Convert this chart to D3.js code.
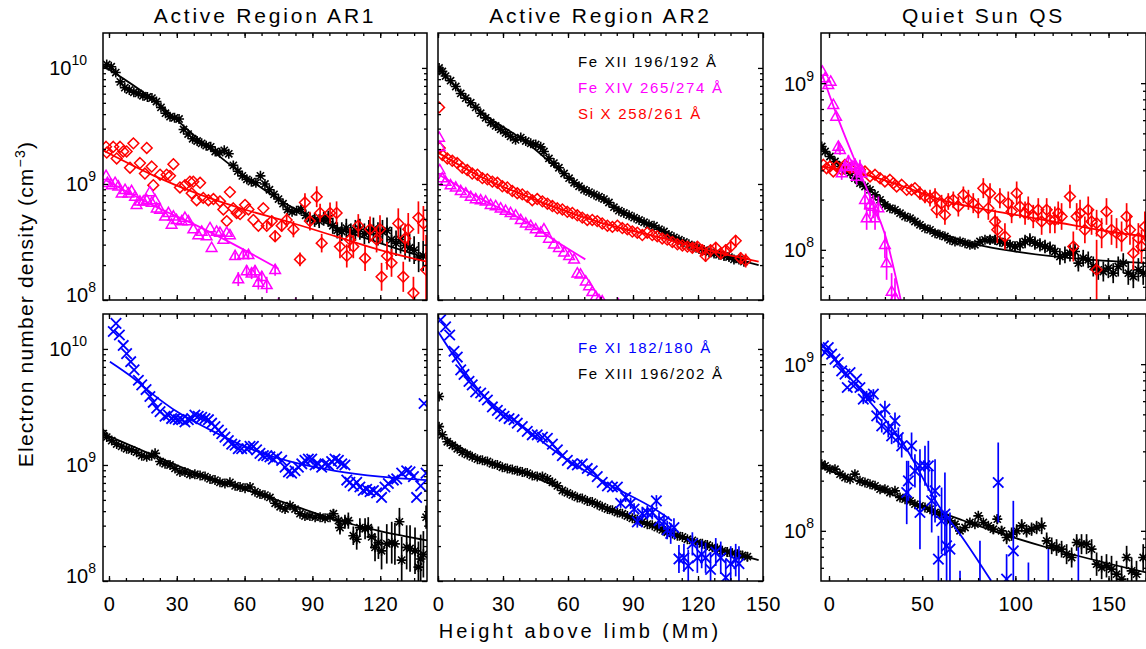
<!DOCTYPE html>
<html>
<head>
<meta charset="utf-8">
<script src="https://cdn.jsdelivr.net/npm/d3@7"></script>
<style>
  body { margin: 0; background: #fff; }
  text { font-family: "Liberation Sans", Arial, sans-serif; }
</style>
</head>
<body>
<div id="chart"></div>
<script>
// every point is [height (Mm), log10 density (cm^-3), error half-length in dex (optional)]

// ---- Active Region AR1, upper panel
var ar1Fe12 = [[-1,10.03],[1,10.01],[3,9.96],[5,9.88],[7,9.83],[9,9.81],[11,9.79],[13,9.78],[15,9.76],[17,9.75],[19,9.74],[21,9.71],[23,9.66],[25,9.61],[27,9.58],[29,9.57],[31,9.56],[33,9.47],[35,9.43],[37,9.39],[39,9.37],[41,9.35],[43,9.33],[45,9.32],[47,9.28],[49,9.27],[51,9.29],[53,9.26],[55,9.16],[57,9.11],[59,9.07],[61,9.04],[63,9.02],[65,9.01],[67,9.07],[69,9.00],[71,8.95],[73,8.91],[75,8.87],[77,8.83],[79,8.78],[81,8.76],[83,8.77],[85,8.78,0.04],[87,8.73,0.05],[89,8.70,0.05],[91,8.69,0.06],[93,8.68,0.06],[95,8.70,0.06],[97,8.70,0.07],[99,8.64,0.07],[101,8.60,0.07],[103,8.59,0.08],[105,8.62,0.08],[107,8.58,0.08],[109,8.60,0.09],[111,8.61,0.09],[113,8.57,0.09],[115,8.59,0.1],[117,8.61,0.1],[119,8.57,0.1],[121,8.59,0.1],[123,8.60,0.11],[125,8.52,0.11],[127,8.49,0.11],[129,8.52,0.12],[131,8.47,0.12],[133,8.45,0.12],[135,8.43,0.12],[137,8.37,0.13],[139,8.38,0.13]];
var ar1Fe12Fit = [[-2.65,10.02],[20,9.72],[40,9.38],[60,9.07],[80,8.81],[100,8.63],[120,8.49],[140.7,8.36]];

var ar1Si10 = [[-1.3,9.32],[-1,9.27],[1.9,9.32],[3.4,9.22],[4.9,9.32],[6.3,9.28],[7.8,9.28],[9.3,9.14],[10.8,9.35],[13.7,9.18],[15.9,9.09],[16.7,9.31],[18.9,9.15],[19.6,8.99],[22.6,9.08],[25.5,9.08],[27,9.07],[28.5,9.17],[31.4,8.97],[33.6,8.99],[35.8,9.02],[36.6,8.92],[37.3,9.02],[38.8,8.86],[40.3,9.01],[41.7,8.88],[44,8.86],[46.2,8.87],[49.1,8.85],[50.6,8.78],[52.1,8.68],[53.5,8.93],[55,8.79],[56.5,8.75],[58,8.74],[60.2,8.82],[61.7,8.78],[63.9,8.69],[66.1,8.64],[68.3,8.79],[69.8,8.64,0.03],[72,8.68,0.04],[73.5,8.55,0.05],[76.4,8.64,0.05],[78.6,8.69,0.06],[81.6,8.61,0.07],[84.5,8.35,0.06],[86.7,8.84,0.08],[88.9,8.68,0.08],[91.9,8.89,0.09],[93.4,8.75,0.08],[94.1,8.49,0.08],[97.8,8.75,0.09],[100.7,8.75,0.1],[102.2,8.46,0.1],[105.2,8.38,0.1],[106.6,8.52,0.1],[108.1,8.46,0.1],[110.3,8.64,0.1],[113.3,8.36,0.11],[115.5,8.61,0.11],[118.4,8.52,0.11],[119.9,8.61,0.12],[120.6,8.20,0.12],[123,8.38,0.12],[125,8.32,0.12],[128,8.66,0.13],[130.2,8.20,0.13],[131,8.53,0.13],[132.4,8.61,0.14],[134.7,8.06,0.14],[136.9,8.71,0.14],[139.1,8.66,0.15],[140.3,8.26,0.3]];
var ar1Si10Fit = [[-2.65,9.29],[20,9.07],[40,8.91],[60,8.78],[80,8.67],[100,8.55],[120,8.43],[140.7,8.33]];

var ar1Fe14 = [[-1.3,9.07],[-0.7,9.01],[1.2,8.99],[2.7,9.01],[4.1,8.98],[5.6,8.92],[7.1,8.95],[8.6,8.92],[10,8.94],[11.5,8.89],[12.2,8.82],[13.7,8.85],[15.2,8.85],[16.7,8.86],[18.1,8.93],[18.9,8.84],[20.4,8.86],[21.1,8.79],[22.6,8.78],[24.8,8.72],[26.3,8.75],[27.7,8.65],[28.5,8.72],[29.9,8.69],[32.2,8.68],[33.6,8.71],[35.1,8.68],[37.3,8.61],[39.5,8.56],[41,8.59],[43.2,8.55],[44.7,8.62],[45.4,8.45],[47.6,8.59],[49.1,8.58],[50.6,8.52],[52.1,8.58],[53.5,8.56],[55.8,8.38,0.03],[57.2,8.18,0.06],[59.4,8.39,0.04],[60.9,8.25,0.05],[61.7,8.39,0.04],[63.1,8.23,0.05],[64.6,8.25,0.05],[66.1,8.15,0.06],[67.6,8.20,0.05],[69.8,8.13,0.07],[73.5,8.26,0.05],[75,7.95,0.07],[82.6,7.9,0.12]];
var ar1Fe14Fit = [[-1.3,9.03],[20,8.81],[40,8.63],[60,8.43],[75,8.27]];

// ---- Active Region AR1, lower panel
var ar1Fe11 = [[1.9,10.15],[3.1,10.22],[4.6,10.12],[6.3,10.03],[7.8,9.96],[9.6,9.89],[11.1,9.82],[13,9.73],[14.5,9.69],[16.4,9.65],[18.1,9.59],[19.6,9.54],[21.1,9.49],[22.6,9.46],[24.8,9.42],[26.3,9.43],[27.7,9.40],[29.2,9.40],[30.7,9.39],[32.2,9.39],[33.6,9.37],[35.1,9.39],[36.6,9.40],[38,9.43],[39.5,9.42],[41,9.41],[42.5,9.40],[44,9.39],[45.4,9.36],[46.9,9.33],[48.4,9.30],[49.9,9.27],[51.3,9.24],[52.8,9.21],[54.3,9.18],[55.8,9.17],[57.2,9.14],[58.7,9.14],[60.9,9.14],[62.4,9.16],[63.9,9.16],[65.3,9.13],[66.8,9.10],[68.3,9.08],[69.8,9.08],[71.2,9.07],[72.7,9.05],[74.2,9.07],[76.4,9.04],[77.9,8.98],[79.4,8.94],[80.8,8.93],[82.3,8.95],[83.8,8.98],[85.3,9.01],[86.7,9.04],[88.2,9.05],[89.7,9.05],[91.2,9.00],[92.6,9.01],[94.1,8.98],[95.6,9.01],[97.1,9.00],[98.5,9.03],[100,9.05],[101.5,9.04],[103,9.01],[104.4,9.00],[105.2,8.87],[106.6,8.85],[108.1,8.82],[109.6,8.85],[111,8.81],[112.5,8.78],[114,8.79],[115.5,8.77],[117,8.78],[118.4,8.76],[120.6,8.72],[122.1,8.81],[123.6,8.84],[125.8,8.87],[127.3,8.88],[129.5,8.93],[131.7,8.95],[133.2,8.94],[134.7,8.90],[136.1,8.72],[137.9,8.82],[139.4,9.53],[140.3,8.93]];
var ar1Fe11Fit = [[0.4,9.89],[10,9.76],[20,9.60],[30,9.46],[45,9.30],[60,9.16],[80,9.03],[100,8.95],[120,8.90],[140.7,8.87]];

var ar1Fe13 = [[-2.5,9.27],[-1,9.24],[1.2,9.21],[3.4,9.18],[5.6,9.16],[7.8,9.14],[10,9.13],[12.2,9.11],[14.5,9.08],[16.7,9.07],[18.9,9.08],[20.4,9.10],[22.6,9.03],[24.8,9.01],[27,9.00],[29.2,8.97],[31.4,8.94],[33.6,8.94],[35.8,8.92],[38,8.92],[40.3,8.91],[42.5,8.90],[44.7,8.88],[46.9,8.87],[49.1,8.85],[51.3,8.84],[53.5,8.85],[55.8,8.82],[58,8.81],[60.2,8.80],[62.4,8.81],[64.6,8.77],[66.8,8.75],[69,8.74],[71.2,8.72],[73.5,8.67],[75.7,8.64],[77.9,8.62],[80.1,8.65],[82.3,8.62],[84.5,8.58],[86.7,8.56],[88.9,8.56],[91.2,8.55],[93.4,8.55],[95.6,8.54],[97.8,8.55],[99.3,8.58,0.04],[101.5,8.52,0.05],[102.2,8.46,0.06],[104.4,8.51,0.06],[105.9,8.52,0.07],[108.1,8.39,0.08],[109.6,8.36,0.09],[111,8.46,0.08],[113.3,8.45,0.09],[114.7,8.46,0.09],[116.2,8.38,0.1],[117.7,8.29,0.12],[119.2,8.33,0.14],[120.6,8.26,0.16],[122.9,8.32,0.17],[125.1,8.33,0.18],[126.5,8.32,0.18],[128.5,8.51,0.12],[129.5,8.18,0.2],[131.7,8.29,0.19],[133.2,8.28,0.2],[135.4,8.26,0.2],[136.9,8.12,0.22],[137.9,8.19,0.21],[139.1,8.23,0.2],[140.3,8.55,0.1]];
var ar1Fe13Fit = [[-2.65,9.27],[20,9.08],[40,8.92],[60,8.79],[80,8.66],[100,8.53],[120,8.43],[140.7,8.35]];

// ---- Active Region AR2, upper panel
var ar2Fe12 = [[0.5,10.0],[2,9.97],[3.5,9.93],[5.8,9.89],[8.2,9.84],[10.5,9.78],[12.8,9.74],[15.1,9.70],[17.4,9.66],[19.7,9.61],[22,9.57],[24.3,9.53],[26.6,9.50],[28.9,9.47],[31.2,9.44],[33.5,9.41],[35.8,9.38],[38.2,9.40],[40.5,9.37],[42.8,9.35],[45.1,9.34],[47.4,9.32],[48.9,9.28],[51.2,9.22],[53.5,9.18],[55.8,9.14],[58.2,9.09],[60.5,9.05],[62.8,9.01],[65.1,8.98],[67.4,8.95],[69.7,8.93],[72,8.91],[74.3,8.89],[76.6,8.87],[78.9,8.84],[81.2,8.80],[83.5,8.77],[85.8,8.75],[88.2,8.73],[90.5,8.71],[92.8,8.69],[95.1,8.67],[97.4,8.65],[99.7,8.64],[102,8.61],[104.3,8.59],[106.6,8.56],[108.9,8.54],[111.2,8.52],[113.5,8.50],[115.8,8.48],[118.2,8.46],[120.5,8.44,0.02],[122.8,8.43,0.02],[125.1,8.41,0.02],[127.4,8.40,0.03],[129.7,8.39,0.03],[132,8.38,0.03],[134.3,8.37,0.03],[136.6,8.35,0.03],[138.9,8.35,0.03],[141.2,8.33,0.03]];
var ar2Fe12Fit = [[0,10.0],[20,9.62],[40,9.37],[60,9.06],[80,8.82],[100,8.63],[120,8.46],[148,8.30]];

var ar2Si10 = [[0.5,9.66],[0.8,9.31],[2,9.25],[4.3,9.22],[6.6,9.20],[8.9,9.18],[11.2,9.14],[13.5,9.12],[15.8,9.09],[18.2,9.08],[20.5,9.05],[22.8,9.04],[25.1,9.02],[27.4,9.01],[29.7,8.98],[32,8.97],[34.3,8.94],[36.6,8.92],[38.9,8.91],[41.2,8.89],[43.5,8.86],[45.8,8.87],[48.2,8.85],[50.5,8.83],[52.8,8.81],[55.1,8.79],[57.4,8.78],[59.7,8.76],[62,8.75],[64.3,8.73],[66.6,8.71],[68.9,8.69],[71.2,8.69],[73.5,8.68],[75.8,8.66],[78.2,8.64],[80.5,8.63],[82.8,8.64],[85.1,8.62],[87.4,8.61],[89.7,8.59],[92,8.58],[94.3,8.56],[96.6,8.58],[98.9,8.56],[101.2,8.55],[103.5,8.53],[105.8,8.52],[108.2,8.50],[110.5,8.48,0.03],[112.8,8.47,0.03],[115.1,8.46,0.03],[117.4,8.45,0.04],[119.7,8.46,0.04],[122,8.43,0.04],[123.5,8.38,0.05],[125.8,8.43,0.04],[128.2,8.45,0.04],[130.5,8.40,0.05],[132.8,8.43,0.05],[135.1,8.46,0.05],[137.4,8.51,0.05],[139.7,8.36,0.05],[142,8.34,0.06]];
var ar2Si10Fit = [[0,9.27],[20,9.06],[40,8.90],[60,8.76],[80,8.64],[100,8.55],[120,8.45],[148,8.33]];

var ar2Fe14 = [[0.5,9.40],[0.8,9.32],[0.8,9.12],[2,9.05],[3.5,9.02],[5.8,8.99],[8.2,8.97],[10.5,8.94],[12.8,8.92],[15.1,8.89],[17.4,8.87],[19.7,8.86],[22,8.85],[24.3,8.82],[26.6,8.81],[28.9,8.79],[31.2,8.77],[33.5,8.75],[35.8,8.73],[38.2,8.69],[40.5,8.66],[42.8,8.64],[45.1,8.61],[47.4,8.58],[48.9,8.61],[51.2,8.53],[53.5,8.48],[55.8,8.45],[58.2,8.41],[60.5,8.38],[62.8,8.35],[64.3,8.23],[65.8,8.22],[68.2,8.16],[69.7,8.12],[71.2,8.07],[72.8,8.03],[74.3,8.00],[75.8,7.99],[83.2,7.9,0.12]];
var ar2Fe14Fit = [[0.5,9.08],[20,8.87],[40,8.68],[55,8.50],[68,8.35]];

// ---- Active Region AR2, lower panel
var ar2Fe11 = [[1.2,10.25],[3.5,10.19],[5.4,10.12],[7.4,9.98],[8.9,9.93],[10.5,9.82],[12,9.78],[14.3,9.72],[15.8,9.69],[17.4,9.63],[19.7,9.62],[21.2,9.59],[22.8,9.56],[25.1,9.50],[27.4,9.47],[28.9,9.44],[30.5,9.42],[32.8,9.40],[35.1,9.39],[36.6,9.36],[38.9,9.33],[41.2,9.29],[43.5,9.26],[45.8,9.26],[48.2,9.24],[50.5,9.23],[52.8,9.18],[55.1,9.13],[57.4,9.08],[59.7,9.04],[62,9.01],[64.3,9.00],[66.6,9.01],[68.9,8.97],[71.2,8.95],[73.5,8.90],[75.8,8.85],[78.2,8.82],[80.5,8.81],[82.8,8.81],[84.3,8.67,0.04],[86.6,8.72,0.04],[88.9,8.67,0.05],[90.5,8.62,0.05],[92,8.51,0.05],[94.3,8.58,0.06],[96.6,8.59,0.06],[98.9,8.59,0.06],[100.8,8.69,0.05],[102,8.52,0.07],[104.3,8.51,0.07],[105.8,8.44,0.08],[107.4,8.41,0.09],[108.9,8.46,0.08],[111.2,8.19,0.12],[113.5,8.20,0.12],[115.5,8.13,0.14],[117.4,8.32,0.1],[119.7,8.20,0.13],[121.7,8.23,0.12],[123.5,8.20,0.13],[125.8,8.10,0.15],[128.2,8.25,0.12],[130.5,8.20,0.14],[132.8,8.03,0.16],[135.1,8.15,0.15],[137.4,8.18,0.14],[138.9,8.15,0.15]];
var ar2Fe11Fit = [[0,10.15],[20,9.62],[40,9.32],[60,9.04],[80,8.82],[100,8.62],[108,8.52]];

var ar2Fe13 = [[0.5,9.59],[0.5,9.33],[2,9.26],[4.3,9.20],[6.6,9.17],[8.9,9.14],[11.2,9.11],[13.5,9.09],[15.8,9.07],[18.2,9.05],[20.5,9.04],[22.8,9.03],[25.1,9.01],[27.4,9.00],[29.7,8.98],[32,8.97],[34.3,8.96],[36.6,8.95],[38.9,8.94],[41.2,8.93],[43.5,8.91],[45.8,8.90],[48.2,8.90],[50.5,8.88],[52.8,8.85],[55.1,8.82],[57.4,8.78],[59.7,8.76],[62,8.74],[64.3,8.72],[66.6,8.71],[68.9,8.69],[71.2,8.68],[73.5,8.66],[75.8,8.64],[78.2,8.62],[80.5,8.61],[82.8,8.59],[85.1,8.58],[87.4,8.56],[89.7,8.54],[92,8.53],[94.3,8.51],[96.6,8.49],[98.9,8.48],[101.2,8.46],[103.5,8.44],[105.8,8.42],[108.2,8.41],[110.5,8.39],[112.8,8.38],[115.1,8.36],[117.4,8.35,0.02],[119.7,8.33,0.02],[122,8.32,0.03],[124.3,8.31,0.03],[126.6,8.29,0.03],[128.9,8.28,0.03],[131.2,8.26,0.03],[133.5,8.25,0.04],[135.8,8.24,0.04],[138.2,8.23,0.04],[140.5,8.22,0.04],[142.8,8.21,0.04]];
var ar2Fe13Fit = [[0,9.28],[20,9.05],[40,8.93],[60,8.77],[80,8.62],[100,8.47],[120,8.33],[148,8.18]];

// ---- Quiet Sun QS, upper panel
var qsFe12 = [[-3.9,8.62],[-2.1,8.59],[0.5,8.56],[3.2,8.53],[5.9,8.50],[8.6,8.48],[11.3,8.46],[13.9,8.43],[16.6,8.40],[19.3,8.38],[22,8.36],[24.7,8.33],[27.4,8.30],[30,8.27],[32.7,8.25],[35.4,8.24],[38.1,8.22],[40.8,8.20],[43.5,8.19],[46.1,8.17],[48.8,8.15],[51.5,8.13],[54.2,8.12],[56.9,8.10],[59.5,8.09],[62.2,8.08],[64.9,8.06],[67.6,8.05],[70.3,8.05],[73,8.04],[75.6,8.03],[78.3,8.03],[81,8.05],[83.7,8.06],[86.4,8.06,0.03],[89.1,8.06,0.03],[91.7,8.05,0.03],[94.4,8.04,0.03],[97.1,8.03,0.03],[99.8,8.02,0.03],[102.5,8.03,0.04],[105.2,8.05,0.04],[107.8,8.06,0.04],[110.5,8.04,0.04],[113.2,8.03,0.04],[115.9,8.02,0.04],[118.6,8.01,0.04],[121.2,7.99,0.04],[123.9,7.96,0.05],[126.6,7.97,0.05],[129.3,7.98,0.05],[132,7.99,0.05],[133.8,7.92,0.05],[136.4,7.95,0.05],[139.1,7.94,0.05],[141.8,7.90,0.06],[144.5,7.88,0.06],[147.2,7.87,0.06],[149.9,7.89,0.06],[152.5,7.86,0.06],[155.2,7.90,0.06],[157.9,7.92,0.06],[160.6,7.86,0.07],[163.3,7.84,0.07],[166,7.88,0.07],[168.6,7.86,0.07]];
var qsFe12Fit = [[-4.3,8.62],[10,8.47],[25,8.33],[40,8.21],[60,8.10],[80,8.03],[100,7.99],[130,7.95],[170.1,7.92]];

var qsSi10 = [[-3,8.51],[-1.3,8.49],[0.5,8.50],[2.3,8.47],[4.1,8.50],[6.8,8.48],[8.6,8.51],[11.3,8.49],[13.9,8.49],[16.6,8.48],[19.3,8.47],[22,8.44],[24.7,8.45],[27.4,8.43],[30,8.41],[32.7,8.42],[34.5,8.40],[36.3,8.38],[39,8.39],[41.7,8.36],[44.3,8.36],[46.1,8.37],[48.8,8.34,0.04],[51.5,8.32,0.04],[54.2,8.31,0.05],[56.9,8.32,0.05],[57.8,8.24,0.05],[60.4,8.28,0.05],[62.2,8.21,0.06],[64,8.29,0.05],[66.7,8.30,0.05],[69.4,8.26,0.06],[72.1,8.33,0.05],[74.8,8.30,0.06],[77.4,8.28,0.06],[80.1,8.25,0.06],[82.8,8.37,0.06],[85.5,8.25,0.07],[86.4,8.34,0.06],[89.1,8.17,0.07],[90.3,8.12,0.08],[91.7,8.31,0.06],[94.4,8.08,0.08],[96.2,8.28,0.07],[98,8.23,0.07],[100.7,8.34,0.07],[102.5,8.26,0.07],[105.2,8.22,0.07],[106.9,8.25,0.07],[109.6,8.20,0.07],[112.3,8.24,0.07],[114.1,8.17,0.08],[116.8,8.24,0.07],[118.6,8.18,0.08],[121.2,8.18,0.08],[123,8.22,0.07],[124.8,8.20,0.08],[129.3,8.32,0.07],[131.1,8.02,0.09],[132.9,8.20,0.08],[134.7,8.22,0.08],[137.3,8.12,0.08],[139.1,8.24,0.08],[140.9,8.17,0.08],[143.6,8.16,0.08],[143.6,7.88,0.18],[146.3,8.10,0.09],[148.9,8.23,0.08],[151.6,8.12,0.09],[154.3,8.10,0.09],[157,8.08,0.09],[159.7,8.20,0.08],[161.5,8.12,0.09],[163.3,7.98,0.1],[166,8.07,0.09],[167.7,8.02,0.1],[169.5,8.14,0.09]];
var qsSi10Fit = [[-4.3,8.50],[20,8.45],[40,8.38],[60,8.30],[80,8.25],[100,8.21],[120,8.17],[150,8.11],[170.1,8.08]];

var qsFe14 = [[-3.6,9.07],[-2.1,9.03],[-0.4,8.99],[0.9,9.01],[2.3,8.87],[3.8,8.80],[5,8.62,0.03],[5.9,8.60,0.03],[6.8,8.46,0.04],[8.6,8.50,0.04],[10.4,8.53,0.04],[12.2,8.50,0.04],[13.9,8.51,0.04],[14.8,8.44,0.05],[16.6,8.49,0.05],[17.5,8.46,0.05],[19.3,8.30,0.06],[20.2,8.19,0.07],[22,8.27,0.07],[23.8,8.26,0.07],[24.7,8.19,0.07],[26.5,8.25,0.07],[30,8.03,0.08],[30.9,7.92,0.1],[33.6,7.75,0.11],[35.4,7.71,0.12]];
var qsFe14Fit = [[-3.6,9.05],[4.1,8.81],[13,8.56],[22,8.32],[30.9,8.06],[38.5,7.70]];

// ---- Quiet Sun QS, lower panel
var qsFe11 = [[-3,9.11],[-2.1,9.07],[-0.4,9.10],[1.4,9.06],[3.2,9.03],[5,9.01],[6.8,8.96],[8.6,8.94],[9.8,8.86],[11.3,8.95],[13.1,8.87],[14.8,8.91],[16.6,8.86],[18.4,8.79,0.03],[20.2,8.81,0.03],[22,8.80,0.03],[23.8,8.82,0.03],[25.6,8.69,0.04],[28.3,8.63,0.04],[30,8.73,0.05],[31.8,8.61,0.05],[33.6,8.57,0.05],[35.4,8.66,0.05],[37.2,8.56,0.06],[39,8.51,0.07],[41.7,8.23,0.19],[42.6,8.30,0.12],[44.3,8.51,0.08],[46.1,8.36,0.1],[48.8,8.39,0.1],[48.8,8.11,0.22],[51.5,8.39,0.12],[53.3,8.39,0.15],[55.1,8.18,0.19],[56.9,8.24,0.19],[58.7,7.83,0.14],[60.4,8.06,0.2],[62.2,8.10,0.25],[63.1,7.91,0.21],[64.9,7.89,0.22],[70.3,7.5,0.26],[81,7.6,0.34],[90.8,8.29,0.24],[95.3,7.71,0.15],[98.9,7.88,0.3],[107,7.55,0.26],[117.7,7.6,0.29],[133.8,7.6,0.3]];
var qsFe11Fit = [[-4.3,9.12],[20,8.80],[40,8.52],[59.5,8.14],[70.3,7.98],[87,7.70]];

var qsFe13 = [[-3.9,8.40],[-2.1,8.39],[0.5,8.37],[3.2,8.37],[5.9,8.34],[8.6,8.32],[11.3,8.31],[13.9,8.34],[16.6,8.30],[19.3,8.29],[22,8.28],[24.7,8.27],[27.4,8.25],[30,8.25],[32.7,8.23],[35.4,8.24],[38.1,8.20],[40.8,8.19],[43.5,8.18],[46.1,8.16],[48.8,8.15],[51.5,8.14],[54.2,8.13],[56.9,8.11],[59.5,8.10],[62.2,8.08],[64.9,8.06],[67.6,8.04],[70.3,8.00],[73,8.02],[75.6,8.05],[78.3,8.04],[80.1,8.09],[82.8,8.05],[85.5,8.03],[88.2,8.01,0.03],[90.3,8.07,0.03],[92.6,8.00,0.03],[95.3,7.96,0.04],[98,7.98,0.04],[100.7,8.00,0.04],[103.4,8.03,0.04],[106,8.00,0.04],[108.7,8.01,0.04],[111.4,8.02,0.04],[114.1,8.03,0.05],[116.8,7.94,0.05],[119.5,7.91,0.05],[122.1,7.90,0.05],[124.8,7.89,0.05],[127.5,7.86,0.06],[130.2,7.84,0.06],[132.9,7.93,0.05],[135.5,7.92,0.06],[138.2,7.92,0.06],[140.9,7.89,0.06],[143.6,7.80,0.07],[146.3,7.78,0.07],[148.9,7.79,0.07],[151.6,7.77,0.08],[154.3,7.74,0.08],[157,7.71,0.08],[159.7,7.84,0.07],[162.4,7.76,0.08],[165,7.74,0.08],[168.6,7.84,0.08]];
var qsFe13Fit = [[-4.3,8.38],[20,8.28],[40,8.19],[60,8.11],[70,8.07],[88,8.00],[117,7.90],[170.1,7.75]];

// ---- axes and labels
var titles = ["Active Region AR1", "Active Region AR2", "Quiet Sun QS"];
var xDomains = [[-2.65, 140.7], [0, 150], [-4.3, 170.1]];
var xTicks = [[0, 30, 60, 90, 120], [0, 30, 60, 90, 120, 150], [0, 50, 100, 150]];
var xMinorStep = [7.5, 7.5, 10];
var yDomains = [[1e8, 2e10], [1e8, 2e10], [5e7, 2e9]];
var legendTop = [["Fe XII 196/192 \u00C5", "#000000"], ["Fe XIV 265/274 \u00C5", "#ff00ff"], ["Si X 258/261 \u00C5", "#ff0000"]];
var legendBottom = [["Fe XI 182/180 \u00C5", "#0000ff"], ["Fe XIII 196/202 \u00C5", "#000000"]];

var BLACK = "#000000", RED = "#ff0000", MAGENTA = "#ff00ff", BLUE = "#0000ff";

var panels = [
  {col: 0, row: 0, series: [
    {data: ar1Fe12, fit: ar1Fe12Fit, color: BLACK, mark: "ast"},
    {data: ar1Si10, fit: ar1Si10Fit, color: RED, mark: "dia"},
    {data: ar1Fe14, fit: ar1Fe14Fit, color: MAGENTA, mark: "tri"}]},
  {col: 1, row: 0, series: [
    {data: ar2Fe12, fit: ar2Fe12Fit, color: BLACK, mark: "ast"},
    {data: ar2Si10, fit: ar2Si10Fit, color: RED, mark: "dia"},
    {data: ar2Fe14, fit: ar2Fe14Fit, color: MAGENTA, mark: "tri"}], legend: legendTop},
  {col: 2, row: 0, series: [
    {data: qsFe12, fit: qsFe12Fit, color: BLACK, mark: "ast"},
    {data: qsSi10, fit: qsSi10Fit, color: RED, mark: "dia"},
    {data: qsFe14, fit: qsFe14Fit, color: MAGENTA, mark: "tri"}]},
  {col: 0, row: 1, series: [
    {data: ar1Fe13, fit: ar1Fe13Fit, color: BLACK, mark: "ast"},
    {data: ar1Fe11, fit: ar1Fe11Fit, color: BLUE, mark: "cross"}]},
  {col: 1, row: 1, series: [
    {data: ar2Fe13, fit: ar2Fe13Fit, color: BLACK, mark: "ast"},
    {data: ar2Fe11, fit: ar2Fe11Fit, color: BLUE, mark: "cross"}], legend: legendBottom},
  {col: 2, row: 1, series: [
    {data: qsFe13, fit: qsFe13Fit, color: BLACK, mark: "ast"},
    {data: qsFe11, fit: qsFe11Fit, color: BLUE, mark: "cross"}]}
];

// layout
var width = 1146, height = 649;
var cols = [{x: 103, w: 324}, {x: 438, w: 325}, {x: 821, w: 325}];
var rows = [{y: 33, h: 267}, {y: 314, h: 267}];
var FONT = "'Liberation Sans', Arial, sans-serif";

var svg = d3.select("#chart").append("svg")
  .attr("width", width).attr("height", height)
  .style("background", "#fff");

// IDL-like plot symbols
var symbols = {
  ast: function(r) { var a = r * 0.72; return "M" + (-r) + ",0H" + r + "M0," + (-r) + "V" + r + "M" + (-a) + "," + (-a) + "L" + a + "," + a + "M" + (-a) + "," + a + "L" + a + "," + (-a); },
  dia: function(r) { return "M0," + (-r) + "L" + r + ",0L0," + r + "L" + (-r) + ",0Z"; },
  tri: function(r) { return "M0," + (-r) + "L" + (r * 0.95) + "," + (r * 0.65) + "L" + (-r * 0.95) + "," + (r * 0.65) + "Z"; },
  cross: function(r) { return "M" + (-r) + "," + (-r) + "L" + r + "," + r + "M" + (-r) + "," + r + "L" + r + "," + (-r); }
};
var markSize = {ast: 5, dia: 5.4, tri: 5.6, cross: 5.2};
var markWidth = {ast: 1.6, dia: 1.5, tri: 1.5, cross: 1.8};

var pow10 = function(v) { return Math.pow(10, v); };

function styleAxis(sel) {
  sel.select(".domain").remove();
  sel.attr("font-family", FONT).attr("font-size", 20);
  sel.selectAll("line").attr("stroke", "#000").attr("stroke-width", 1.3);
  sel.selectAll("text").attr("fill", "#000");
}

panels.forEach(function(p, i) {
  var c = cols[p.col], r = rows[p.row];
  var x = d3.scaleLinear().domain(xDomains[p.col]).range([0, c.w]);
  var y = d3.scaleLog().domain(yDomains[p.col]).range([r.h, 0]);

  var g = svg.append("g").attr("transform", "translate(" + c.x + "," + r.y + ")");
  g.append("clipPath").attr("id", "clip" + i)
    .append("rect").attr("width", c.w).attr("height", r.h);
  var plot = g.append("g").attr("clip-path", "url(#clip" + i + ")");

  p.series.forEach(function(s) {
    // error bars
    plot.append("g").selectAll("line")
      .data(s.data.filter(function(d) { return d[2]; }))
      .join("line")
        .attr("x1", function(d) { return x(d[0]); })
        .attr("x2", function(d) { return x(d[0]); })
        .attr("y1", function(d) { return y(pow10(d[1] - d[2])); })
        .attr("y2", function(d) { return y(pow10(d[1] + d[2])); })
        .attr("stroke", s.color).attr("stroke-width", 1.7);
    // symbols
    plot.append("g").selectAll("path")
      .data(s.data)
      .join("path")
        .attr("transform", function(d) { return "translate(" + x(d[0]) + "," + y(pow10(d[1])) + ")"; })
        .attr("d", symbols[s.mark](markSize[s.mark]))
        .attr("fill", "none")
        .attr("stroke", s.color)
        .attr("stroke-width", markWidth[s.mark]);
    // fitted profile
    plot.append("path").datum(s.fit)
      .attr("d", d3.line()
        .x(function(d) { return x(d[0]); })
        .y(function(d) { return y(pow10(d[1])); })
        .curve(d3.curveMonotoneX))
      .attr("fill", "none").attr("stroke", s.color).attr("stroke-width", 1.8);
  });

  // ticks
  var xd = xDomains[p.col], st = xMinorStep[p.col];
  var xMinor = d3.range(Math.ceil(xd[0] / st) * st, xd[1], st);
  var yd = yDomains[p.col];
  var decades = [], yMinor = [];
  for (var e = Math.floor(Math.log10(yd[0])); e <= Math.ceil(Math.log10(yd[1])); e++) {
    var v = Math.pow(10, e);
    if (v >= yd[0] * 0.999 && v <= yd[1]) decades.push(v);
    for (var m = 2; m <= 9; m++) {
      var mv = m * v;
      if (mv > yd[0] * 1.001 && mv < yd[1] * 0.999) yMinor.push(mv);
    }
  }

  g.append("g").attr("transform", "translate(0," + r.h + ")")
    .call(d3.axisBottom(x).tickValues(xMinor).tickSize(-3).tickFormat("")).call(styleAxis);
  g.append("g")
    .call(d3.axisTop(x).tickValues(xMinor).tickSize(-3).tickFormat("")).call(styleAxis);
  g.append("g")
    .call(d3.axisTop(x).tickValues(xTicks[p.col]).tickSize(-5).tickFormat("")).call(styleAxis);
  var xb = g.append("g").attr("transform", "translate(0," + r.h + ")")
    .call(d3.axisBottom(x).tickValues(xTicks[p.col]).tickSize(-5).tickPadding(16)
      .tickFormat(p.row === 1 ? d3.format("d") : function() { return ""; }))
    .call(styleAxis);
  xb.selectAll("text").style("letter-spacing", "0.5px");

  g.append("g")
    .call(d3.axisLeft(y).tickValues(yMinor).tickSize(-3).tickFormat("")).call(styleAxis);
  g.append("g").attr("transform", "translate(" + c.w + ",0)")
    .call(d3.axisRight(y).tickValues(yMinor).tickSize(-3).tickFormat("")).call(styleAxis);
  g.append("g").attr("transform", "translate(" + c.w + ",0)")
    .call(d3.axisRight(y).tickValues(decades).tickSize(-5).tickFormat("")).call(styleAxis);
  var yl = g.append("g")
    .call(d3.axisLeft(y).tickValues(decades).tickSize(-5).tickPadding(7).tickFormat(function() { return ""; }))
    .call(styleAxis);
  if (p.col !== 1) {
    yl.selectAll(".tick text").each(function(d) {
      var ex = Math.round(Math.log10(d));
      var t = d3.select(this).text(null).attr("dy", "0.35em");
      t.append("tspan").text("10");
      t.append("tspan").attr("dy", -10).attr("font-size", 14).text(ex);
      if (ex >= 10) t.attr("x", -16);
      if (Math.abs(d - yd[0]) < d * 1e-6 && p.col === 0) t.attr("y", -6);
    });
  }

  // frame
  g.append("rect").attr("width", c.w).attr("height", r.h)
    .attr("fill", "none").attr("stroke", "#000").attr("stroke-width", 1.5);

  // legend
  if (p.legend) {
    var ly0 = p.row === 0 ? 34 : 39;
    g.append("g").selectAll("text").data(p.legend).join("text")
      .attr("x", 140)
      .attr("y", function(d, k) { return ly0 + k * 26; })
      .attr("font-size", 15)
      .style("letter-spacing", "1.7px")
      .attr("fill", function(d) { return d[1]; })
      .text(function(d) { return d[0]; });
  }

  // column title
  if (p.row === 0) {
    svg.append("text")
      .attr("x", c.x + c.w / 2).attr("y", 23)
      .attr("text-anchor", "middle")
      .attr("font-size", 21)
      .style("letter-spacing", "2.8px")
      .text(titles[p.col]);
  }
});

// axis titles
svg.append("text")
  .attr("x", 580).attr("y", 638)
  .attr("text-anchor", "middle")
  .attr("font-size", 20)
  .style("letter-spacing", "3.2px")
  .text("Height above limb (Mm)");

var yt = svg.append("text")
  .attr("transform", "translate(33,304) rotate(-90)")
  .attr("text-anchor", "middle")
  .attr("font-size", 21)
  .style("letter-spacing", "1.2px");
yt.append("tspan").text("Electron number density (cm");
yt.append("tspan").attr("dy", -8).attr("font-size", 14).text("\u22123");
yt.append("tspan").attr("dy", 8).text(")");
</script>
</body>
</html>
